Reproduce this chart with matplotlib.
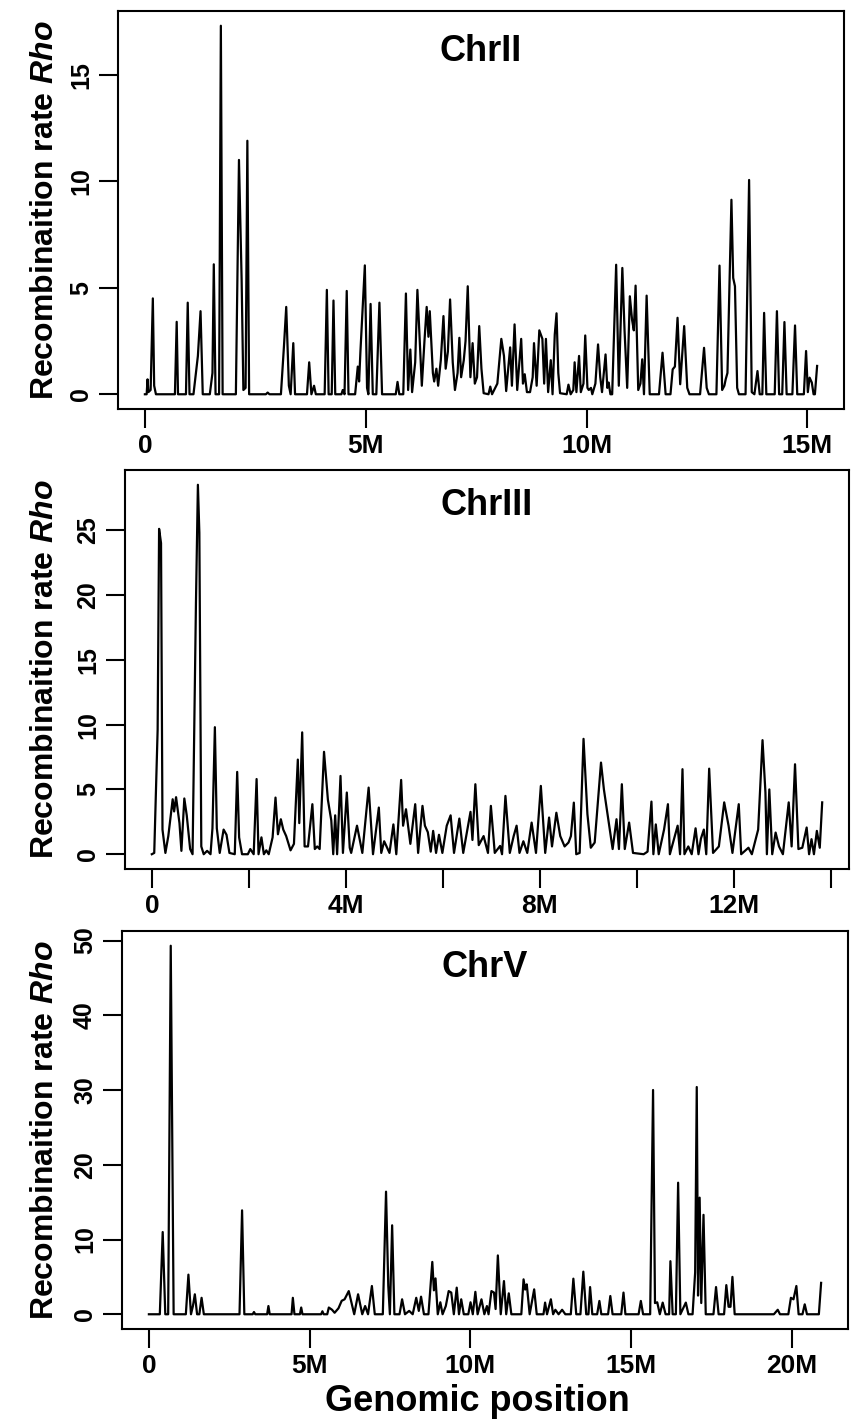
import matplotlib
matplotlib.use("Agg")
import matplotlib.pyplot as plt

plt.rcParams['font.family'] = ['Liberation Sans', 'DejaVu Sans']
plt.rcParams['font.weight'] = 'bold'
plt.rcParams['mathtext.fontset'] = 'custom'
plt.rcParams['mathtext.it'] = 'Liberation Sans:italic:bold'
plt.rcParams['mathtext.rm'] = 'Liberation Sans:bold'

# ---- data: position (Mb), recombination rate rho ----
chr2_pos = [0.00, 0.04, 0.06, 0.08, 0.13, 0.18, 0.21, 0.25, 0.68, 0.72, 0.75, 0.93, 0.97, 1.01,
            1.10, 1.20, 1.26, 1.31, 1.47, 1.53, 1.56, 1.60, 1.68, 1.72, 1.76, 2.06, 2.13, 2.19,
            2.23, 2.28, 2.32, 2.36, 2.74, 2.78, 2.82, 3.08, 3.15, 3.20, 3.26, 3.30, 3.36, 3.40,
            3.67, 3.72, 3.77, 3.83, 3.87, 4.07, 4.12, 4.16, 4.23, 4.27, 4.31, 4.45, 4.48, 4.52,
            4.57, 4.61, 4.76, 4.82, 4.85, 4.88, 4.98, 5.03, 5.06, 5.11, 5.16, 5.24, 5.31, 5.37,
            5.68, 5.72, 5.76, 5.85, 5.91, 5.96, 6.01, 6.05, 6.12, 6.17, 6.27, 6.33, 6.38, 6.42,
            6.45, 6.52, 6.55, 6.60, 6.64, 6.70, 6.76, 6.81, 6.86, 6.91, 6.97, 7.02, 7.08, 7.12,
            7.16, 7.22, 7.26, 7.31, 7.37, 7.42, 7.47, 7.52, 7.57, 7.62, 7.67, 7.78, 7.82, 7.86,
            7.98, 8.07, 8.13, 8.18, 8.27, 8.31, 8.37, 8.43, 8.52, 8.56, 8.60, 8.65, 8.72, 8.78,
            8.81, 8.87, 8.93, 9.00, 9.04, 9.08, 9.13, 9.19, 9.23, 9.28, 9.32, 9.36, 9.40, 9.55,
            9.59, 9.64, 9.70, 9.73, 9.77, 9.83, 9.87, 9.93, 9.97, 10.02, 10.05, 10.10, 10.13,
            10.20, 10.26, 10.31, 10.35, 10.43, 10.47, 10.50, 10.54, 10.58, 10.67, 10.73, 10.81,
            10.86, 10.92, 10.98, 11.03, 11.07, 11.11, 11.17, 11.22, 11.26, 11.30, 11.36, 11.43,
            11.64, 11.72, 11.79, 11.90, 11.95, 12.00, 12.06, 12.12, 12.21, 12.28, 12.33, 12.57,
            12.66, 12.72, 12.77, 12.94, 13.01, 13.07, 13.12, 13.15, 13.19, 13.28, 13.32, 13.36,
            13.41, 13.45, 13.60, 13.68, 13.74, 13.80, 13.87, 13.92, 13.98, 14.02, 14.07, 14.26,
            14.31, 14.36, 14.43, 14.48, 14.53, 14.66, 14.72, 14.77, 14.92, 14.97, 15.01, 15.05,
            15.10, 15.14, 15.17, 15.22]
chr2_rho = [0, 0, 0.7, 0.1, 0.2, 4.5, 0.4, 0, 0, 3.4, 0, 0, 4.3, 0,
            0, 1.8, 3.9, 0, 0, 1.0, 6.1, 0, 0, 17.3, 0, 0, 11.0, 5.4,
            0.2, 0.3, 11.9, 0, 0, 0.08, 0, 0, 2.3, 4.1, 0.4, 0, 2.4, 0,
            0, 1.5, 0, 0.4, 0, 0, 4.9, 0, 0, 4.4, 0, 0, 0.2, 0,
            4.85, 0, 0, 1.3, 0.6, 2.0, 6.05, 0.3, 0, 4.24, 0, 0, 4.3, 0,
            0, 0.58, 0, 0, 4.73, 0.2, 2.1, 0.1, 1.5, 4.9, 0.4, 2.5, 4.1, 2.7,
            3.9, 1.0, 0.6, 1.2, 0.4, 1.6, 3.67, 1.2, 2.0, 4.45, 1.5, 0.2, 1.0, 2.65,
            0.8, 1.6, 2.5, 5.07, 0.8, 2.4, 0.5, 0.8, 3.2, 1.2, 0.05, 0, 0.36, 0,
            0.5, 2.6, 1.8, 0.15, 2.2, 0.4, 3.28, 0.2, 2.6, 0.5, 0.94, 0.1, 0.1, 0.8,
            2.4, 0.4, 3.0, 2.6, 0.5, 2.6, 0.1, 1.6, 0, 2.8, 3.8, 1.0, 0.05, 0,
            0.45, 0, 0.2, 1.5, 0.1, 1.8, 0.1, 0.5, 2.76, 0.3, 0.2, 0.3, 0,
            0.5, 2.34, 0.8, 0.1, 1.87, 0.3, 0.55, 0, 0, 6.08, 0.4, 5.93,
            3.0, 0.3, 4.6, 3.5, 3.0, 5.1, 0.2, 0.5, 1.64, 0, 4.63, 0,
            0, 1.95, 0, 0, 1.17, 1.3, 3.59, 0.47, 3.2, 0.3, 0, 0,
            2.18, 0.3, 0, 0, 6.04, 0.2, 0.4, 0.7, 1.0, 9.13, 5.46, 5.07,
            0.3, 0, 0, 10.06, 0.1, 0, 1.09, 0, 0, 3.82, 0, 0,
            3.9, 0, 0, 3.39, 0, 0, 3.23, 0, 0, 2.03, 0.1, 0.78,
            0.55, 0, 0, 1.33]

chr3_pos = [0.00, 0.05, 0.12, 0.15, 0.19, 0.22, 0.28, 0.34, 0.43, 0.46, 0.50, 0.57, 0.61, 0.67,
            0.72, 0.79, 0.84, 0.91, 0.95, 0.98, 1.02, 1.07, 1.14, 1.21, 1.25, 1.30, 1.34, 1.40,
            1.48, 1.54, 1.60, 1.71, 1.76, 1.80, 1.86, 1.98, 2.03, 2.10, 2.16, 2.20, 2.26, 2.31,
            2.36, 2.41, 2.49, 2.55, 2.60, 2.66, 2.71, 2.77, 2.86, 2.93, 3.01, 3.04, 3.10, 3.15,
            3.22, 3.31, 3.36, 3.41, 3.46, 3.55, 3.63, 3.70, 3.74, 3.78, 3.82, 3.89, 3.94, 4.02,
            4.08, 4.11, 4.23, 4.34, 4.47, 4.56, 4.68, 4.73, 4.79, 4.90, 4.98, 5.04, 5.14, 5.18,
            5.24, 5.33, 5.43, 5.49, 5.58, 5.63, 5.69, 5.75, 5.80, 5.86, 5.92, 5.99, 6.08, 6.16,
            6.23, 6.34, 6.42, 6.57, 6.61, 6.67, 6.74, 6.84, 6.93, 6.99, 7.07, 7.18, 7.22, 7.29,
            7.38, 7.46, 7.52, 7.58, 7.66, 7.74, 7.83, 7.92, 8.02, 8.11, 8.19, 8.25, 8.34, 8.42,
            8.51, 8.59, 8.64, 8.70, 8.75, 8.82, 8.90, 8.98, 9.05, 9.13, 9.26, 9.32, 9.41, 9.50,
            9.58, 9.63, 9.69, 9.75, 9.84, 9.92, 10.14, 10.22, 10.30, 10.34, 10.39, 10.45, 10.56,
            10.64, 10.68, 10.84, 10.89, 10.94, 10.98, 11.06, 11.13, 11.21, 11.27, 11.32, 11.38,
            11.43, 11.49, 11.57, 11.69, 11.80, 11.89, 11.97, 12.10, 12.15, 12.30, 12.37, 12.50,
            12.59, 12.65, 12.68, 12.73, 12.79, 12.86, 12.93, 13.01, 13.13, 13.19, 13.26, 13.33,
            13.41, 13.50, 13.55, 13.60, 13.65, 13.71, 13.77, 13.82]
chr3_rho = [0, 0.1, 9.6, 25.1, 24.0, 1.9, 0.1, 1.4, 4.24, 3.3, 4.4, 2.4, 0.26, 4.3,
            3.0, 0.4, 0, 19.4, 28.5, 24.8, 0.6, 0, 0.26, 0, 2.0, 9.8, 2.0, 0.1,
            1.9, 1.5, 0.1, 0, 6.35, 1.3, 0, 0, 0.4, 0, 5.8, 0, 1.3, 0,
            0.3, 0, 1.3, 4.37, 1.54, 2.7, 1.9, 1.4, 0.3, 0.8, 7.3, 2.4, 9.4, 0.6,
            0.6, 3.86, 0.4, 0.6, 0.4, 7.9, 4.2, 2.6, 0, 3.0, 0, 6.04, 0.1, 4.76,
            0.5, 0.1, 2.2, 0.1, 5.14, 0, 3.6, 0.1, 1.0, 0.1, 2.3, 0, 5.73, 2.2,
            3.47, 0.8, 3.86, 0.1, 3.73, 2.2, 1.7, 0.2, 1.8, 0.1, 1.5, 0.1, 2.2, 3.0,
            0.1, 2.75, 0.1, 3.27, 1.1, 5.4, 0.7, 1.4, 0.1, 3.73, 0.1, 0.64, 0, 4.5,
            0.1, 1.4, 2.2, 0.1, 1.0, 0.1, 2.44, 0.1, 5.27, 0.1, 2.83, 0.6, 3.2, 1.4,
            0.6, 0.9, 1.4, 3.98, 0, 0.1, 8.9, 3.1, 0.5, 0.9, 7.07, 5.0, 2.7, 0.4,
            2.7, 0.4, 5.4, 0.4, 2.44, 0.1, 0, 0.2, 4.06, 0, 2.3, 0, 1.9,
            3.86, 0, 2.2, 0, 6.56, 0, 0.6, 0, 2.0, 0, 1.2, 1.9,
            0, 6.6, 0.1, 0.6, 4.0, 2.2, 0.1, 3.86, 0, 0.5, 0, 1.9,
            8.8, 4.76, 0, 5.0, 0, 1.67, 0.6, 0, 4.0, 0.6, 6.94, 0.4,
            0.5, 2.06, 0, 1.16, 0, 1.8, 0.5, 4.0]

chr5_pos = [0.00, 0.34, 0.43, 0.51, 0.60, 0.68, 0.77, 1.15, 1.23, 1.31, 1.37, 1.43, 1.50, 1.57,
            1.64, 1.71, 2.82, 2.90, 2.97, 3.23, 3.27, 3.31, 3.68, 3.72, 3.76, 4.44, 4.48, 4.53,
            4.70, 4.74, 4.78, 5.36, 5.40, 5.44, 5.55, 5.60, 5.70, 5.78, 5.90, 6.00, 6.09, 6.22,
            6.39, 6.51, 6.64, 6.73, 6.82, 6.94, 7.03, 7.28, 7.38, 7.45, 7.50, 7.57, 7.64, 7.80,
            7.88, 7.97, 8.10, 8.21, 8.32, 8.40, 8.47, 8.56, 8.70, 8.82, 8.87, 8.92, 8.99, 9.07,
            9.14, 9.24, 9.33, 9.41, 9.49, 9.58, 9.65, 9.72, 9.80, 9.94, 10.01, 10.08, 10.16,
            10.23, 10.35, 10.44, 10.52, 10.57, 10.66, 10.74, 10.79, 10.86, 10.95, 11.05, 11.12,
            11.20, 11.28, 11.59, 11.66, 11.71, 11.76, 11.85, 11.99, 12.07, 12.28, 12.33, 12.39,
            12.51, 12.58, 12.65, 12.75, 12.86, 12.96, 13.13, 13.21, 13.30, 13.43, 13.52, 13.61,
            13.68, 13.73, 13.80, 13.95, 14.02, 14.08, 14.29, 14.36, 14.43, 14.70, 14.77, 14.83,
            15.24, 15.31, 15.38, 15.60, 15.69, 15.75, 15.82, 15.90, 15.99, 16.08, 16.19, 16.23,
            16.30, 16.40, 16.47, 16.54, 16.71, 16.79, 16.92, 17.00, 17.05, 17.09, 17.14, 17.19,
            17.26, 17.33, 17.57, 17.65, 17.73, 17.90, 17.97, 18.04, 18.10, 18.16, 18.23, 19.37,
            19.45, 19.57, 19.64, 19.90, 19.98, 20.06, 20.15, 20.22, 20.34, 20.41, 20.48, 20.85,
            20.92]
chr5_rho = [0, 0, 11.0, 0, 0, 49.3, 0, 0, 5.3, 0, 1.1, 2.67, 0, 0,
            2.2, 0, 0, 13.9, 0, 0, 0.3, 0, 0, 1.1, 0, 0, 2.2, 0,
            0, 0.9, 0, 0, 0.4, 0, 0, 0.9, 0.6, 0.2, 0.8, 1.8, 2.0, 3.1,
            0, 2.67, 0, 1.1, 0, 3.78, 0, 0, 16.4, 3.8, 0, 11.9, 0, 0,
            2.0, 0, 0.45, 0, 2.2, 0.45, 2.35, 0, 0, 7.0, 3.2, 4.8, 0, 1.6,
            0, 1.1, 3.1, 2.9, 0, 3.56, 0, 2.0, 0, 0, 1.6, 0, 3.0,
            0, 2.0, 0, 1.1, 0, 3.1, 2.9, 0.7, 7.87, 0, 4.44, 0,
            2.8, 0, 0, 4.67, 3.3, 4.0, 0, 3.33, 0, 0, 1.56, 0,
            2.0, 0, 0.6, 0, 0.6, 0, 0, 4.76, 0, 0, 5.7, 0,
            0, 3.64, 0, 0, 1.78, 0, 0, 2.44, 0, 0, 2.9, 0,
            0, 1.78, 0, 0, 30.0, 1.5, 1.6, 0, 1.56, 0, 0, 7.1,
            0, 0, 17.6, 0, 1.56, 0, 0, 5.6, 30.4, 2.5, 15.6, 1.5,
            13.3, 0, 0, 3.64, 0, 0, 3.9, 1.0, 1.0, 5.0, 0, 0,
            0, 0.6, 0, 0, 2.2, 2.0, 3.78, 0, 0, 1.33, 0, 0,
            4.2]

panels = [
    dict(pos=chr2_pos, rho=chr2_rho, name='ChrII', box=(118, 11, 844, 409),
         xticks=[0, 5, 10, 15], xlabels=['0', '5M', '10M', '15M'],
         yticks=[0, 5, 10, 15], title_y=0.898),
    dict(pos=chr3_pos, rho=chr3_rho, name='ChrIII', box=(125, 470, 849, 869),
         xticks=[0, 2, 4, 6, 8, 10, 12, 14],
         xlabels=['0', '', '4M', '', '8M', '', '12M', ''],
         yticks=[0, 5, 10, 15, 20, 25], title_y=0.912),
    dict(pos=chr5_pos, rho=chr5_rho, name='ChrV', box=(122, 931, 848, 1329),
         xticks=[0, 5, 10, 15, 20], xlabels=['0', '5M', '10M', '15M', '20M'],
         yticks=[0, 10, 20, 30, 40, 50], title_y=0.909),
]

W, H = 853, 1420
fig = plt.figure(figsize=(W / 100, H / 100), dpi=100)

for p in panels:
    l, t, r, b = p['box']
    ax = fig.add_axes([l / W, 1 - b / H, (r - l) / W, (b - t) / H])
    ax.plot(p['pos'], p['rho'], color='black', lw=1.6)
    ax.margins(0.04)
    ax.set_xticks(p['xticks'])
    ax.set_xticklabels(p['xlabels'], fontsize=19, fontweight='bold')
    ax.set_yticks(p['yticks'])
    ax.set_yticklabels([str(v) for v in p['yticks']], fontsize=18, fontweight='bold',
                       rotation=90, va='center', ha='right')
    ax.tick_params(direction='out', length=14, width=1.5, pad=4)
    for s in ax.spines.values():
        s.set_linewidth(1.5)
    ax.text(0.5, p['title_y'], p['name'], transform=ax.transAxes, ha='center',
            va='center', fontsize=26, fontweight='bold')
    fig.text(45 / W, 1 - ((t + b) / 2) / H, r'Recombinaition rate $\mathit{Rho}$',
             rotation=90, ha='center', va='center', fontsize=23, fontweight='bold')

fig.text(477 / W, 1 - 1411 / H, 'Genomic position', ha='center', va='baseline',
         fontsize=26, fontweight='bold')

fig.savefig('out.png', dpi=100)
